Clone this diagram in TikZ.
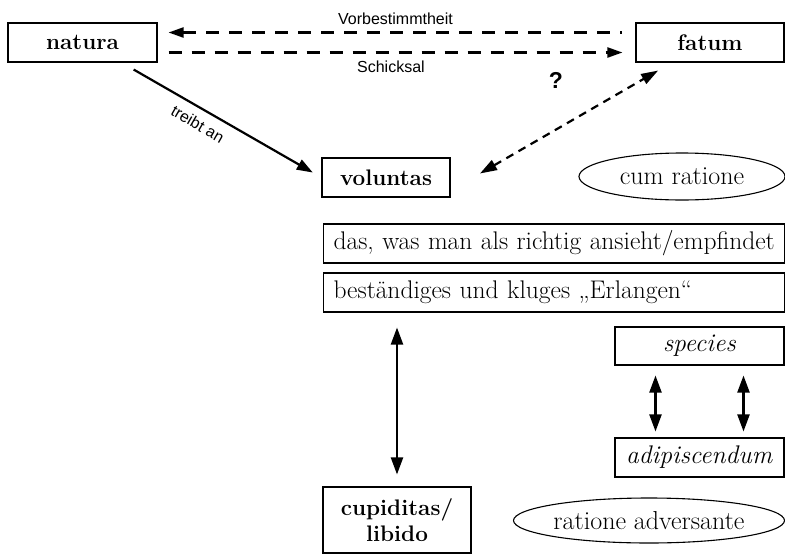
\documentclass[tikz,border=0pt]{standalone}
\usepackage{fontspec}
\newfontfamily\labelfont{Liberation Sans}
\usetikzlibrary{positioning}
\usetikzlibrary{arrows.meta}
\usetikzlibrary{shapes.geometric}

\tikzset{
  box/.style={draw, line width=1.1pt, minimum height=39pt, inner sep=0pt,
    font=\fontsize{25.5}{28}\selectfont},
  boldbox/.style={box, font=\fontsize{22.5}{26}\selectfont\bfseries},
  linebox/.style={box, anchor=west, text width=441pt, align=left, inner xsep=10pt},
  oval/.style={draw, ellipse, line width=1.1pt, inner sep=0pt,
    font=\fontsize{26}{28}\selectfont},
  lbl/.style={font=\labelfont\fontsize{16}{18}\selectfont},
  tip/.style={-{Triangle[length=16pt,width=11pt]}},
  twotip/.style={{Triangle[length=17pt,width=12pt]}-{Triangle[length=17pt,width=12pt]}, line width=2.2pt},
  longdash/.style={line width=2.2pt, dash pattern=on 13pt off 10pt},
  shortdash/.style={line width=2.2pt, dash pattern=on 8pt off 6pt}
}

\begin{document}
\begin{tikzpicture}[x=1pt,y=-1pt]
\useasboundingbox (0,0) rectangle (785,555);

% top row
\node[boldbox, minimum width=149pt] (natura) at (82.5,42.5) {natura};
\node[boldbox, minimum width=148pt] (fatum) at (710,42.5) {fatum};

\draw[longdash, {Triangle[length=15pt,width=10pt]}-] ([xshift=11pt,yshift=10pt]natura.east) -- ([xshift=-13pt,yshift=10pt]fatum.west)
  node[lbl, midway, above=3pt] (vorb) {Vorbestimmtheit};
\draw[longdash, -{Triangle[length=15pt,width=10pt]}] ([xshift=11pt,yshift=-10pt]natura.east) -- ([xshift=-13pt,yshift=-10pt]fatum.west)
  node[lbl, pos=0.49, below=4pt] (schick) {Schicksal};

% middle
\node[boldbox, minimum width=128pt] (voluntas) at (386,177.5) {voluntas};
\node[oval, minimum width=206pt, minimum height=47pt] (cumrat) at (682,176.5) {cum ratione};

\draw[tip, line width=2.2pt, shorten <=14pt, shorten >=10pt] ([xshift=39pt]natura.south) -- (voluntas.west)
  node[lbl, sloped, pos=0.42, below=5pt] (treibt) {treibt an};
\draw[shortdash, {Triangle[length=17pt,width=11pt]}-{Triangle[length=17pt,width=11pt]}, shorten <=34pt, shorten >=16pt]
  ([yshift=-13pt]voluntas.east) -- ([xshift=-38pt]fatum.south);
\node[font=\labelfont\bfseries\fontsize{23}{25}\selectfont] (frage) at (556,80) {?};

% rows
\node[linebox] (richtig) at (323,243.5) {\mbox{das, was man als richtig ansieht/empfindet}};
\node[linebox] (erlangen) at (323,292.5) {\mbox{beständiges und kluges „Erlangen“}};

% right column
\node[box, minimum width=169pt, minimum height=38pt] (species) at (699.5,346) {\textit{species}};
\node[box, minimum width=169pt] (adip) at (699.5,457.5) {\textit{adipiscendum}};
\draw[twotip, shorten <=10pt, shorten >=6pt] ([xshift=-44pt]species.south) -- ([xshift=-44pt]species.south |- adip.north);
\draw[twotip, shorten <=10pt, shorten >=6pt] ([xshift=44pt]species.south) -- ([xshift=44pt]species.south |- adip.north);

% bottom
\node[boldbox, minimum width=148pt, minimum height=66pt, align=center] (cupid) at (397,520) {cupiditas/\\libido};
\node[oval, minimum width=271pt, minimum height=45pt] (ratadv) at (649,520.5) {ratione adversante};
\draw[twotip, shorten <=12pt, shorten >=15pt] (cupid.north) -- (cupid.north |- erlangen.south);

\end{tikzpicture}
\end{document}
